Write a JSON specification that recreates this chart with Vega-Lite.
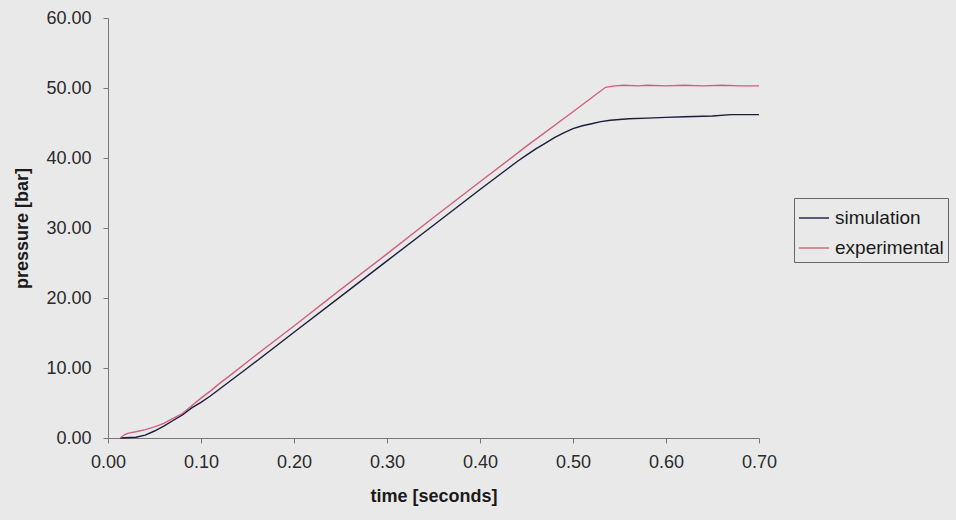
{
  "$schema": "https://vega.github.io/schema/vega-lite/v6.json",
  "autosize": "none",
  "width": 651,
  "height": 420,
  "padding": {"left": 108, "top": 18, "right": 197, "bottom": 82},
  "background": "#e9e9e9",
  "config": {
    "view": {"stroke": null},
    "font": "Liberation Sans",
    "axis": {
      "domainColor": "#777777",
      "tickColor": "#777777",
      "tickSize": 5,
      "grid": false,
      "labelFont": "Liberation Sans",
      "labelFontSize": 18,
      "labelColor": "#2a2a2a",
      "titleFont": "Liberation Sans",
      "titleFontSize": 18,
      "titleFontWeight": "bold",
      "titleColor": "#1a1a1a"
    }
  },
  "data": {
    "values": [
      {"t": 0.013, "p": 0.0, "series": "simulation"},
      {"t": 0.030, "p": 0.1, "series": "simulation"},
      {"t": 0.040, "p": 0.4, "series": "simulation"},
      {"t": 0.050, "p": 1.0, "series": "simulation"},
      {"t": 0.060, "p": 1.7, "series": "simulation"},
      {"t": 0.070, "p": 2.5, "series": "simulation"},
      {"t": 0.080, "p": 3.3, "series": "simulation"},
      {"t": 0.090, "p": 4.3, "series": "simulation"},
      {"t": 0.100, "p": 5.1, "series": "simulation"},
      {"t": 0.110, "p": 6.0, "series": "simulation"},
      {"t": 0.120, "p": 7.0, "series": "simulation"},
      {"t": 0.130, "p": 8.0, "series": "simulation"},
      {"t": 0.150, "p": 10.0, "series": "simulation"},
      {"t": 0.200, "p": 15.1, "series": "simulation"},
      {"t": 0.250, "p": 20.2, "series": "simulation"},
      {"t": 0.300, "p": 25.3, "series": "simulation"},
      {"t": 0.350, "p": 30.4, "series": "simulation"},
      {"t": 0.400, "p": 35.5, "series": "simulation"},
      {"t": 0.420, "p": 37.5, "series": "simulation"},
      {"t": 0.430, "p": 38.5, "series": "simulation"},
      {"t": 0.440, "p": 39.5, "series": "simulation"},
      {"t": 0.450, "p": 40.4, "series": "simulation"},
      {"t": 0.460, "p": 41.3, "series": "simulation"},
      {"t": 0.470, "p": 42.1, "series": "simulation"},
      {"t": 0.480, "p": 42.9, "series": "simulation"},
      {"t": 0.490, "p": 43.6, "series": "simulation"},
      {"t": 0.500, "p": 44.2, "series": "simulation"},
      {"t": 0.510, "p": 44.6, "series": "simulation"},
      {"t": 0.520, "p": 44.9, "series": "simulation"},
      {"t": 0.530, "p": 45.2, "series": "simulation"},
      {"t": 0.540, "p": 45.4, "series": "simulation"},
      {"t": 0.560, "p": 45.6, "series": "simulation"},
      {"t": 0.580, "p": 45.7, "series": "simulation"},
      {"t": 0.600, "p": 45.8, "series": "simulation"},
      {"t": 0.620, "p": 45.9, "series": "simulation"},
      {"t": 0.650, "p": 46.0, "series": "simulation"},
      {"t": 0.670, "p": 46.2, "series": "simulation"},
      {"t": 0.700, "p": 46.2, "series": "simulation"},
      {"t": 0.013, "p": 0.0, "series": "experimental"},
      {"t": 0.018, "p": 0.5, "series": "experimental"},
      {"t": 0.022, "p": 0.7, "series": "experimental"},
      {"t": 0.030, "p": 0.9, "series": "experimental"},
      {"t": 0.040, "p": 1.2, "series": "experimental"},
      {"t": 0.050, "p": 1.6, "series": "experimental"},
      {"t": 0.060, "p": 2.1, "series": "experimental"},
      {"t": 0.070, "p": 2.8, "series": "experimental"},
      {"t": 0.080, "p": 3.5, "series": "experimental"},
      {"t": 0.090, "p": 4.6, "series": "experimental"},
      {"t": 0.100, "p": 5.7, "series": "experimental"},
      {"t": 0.110, "p": 6.7, "series": "experimental"},
      {"t": 0.120, "p": 7.8, "series": "experimental"},
      {"t": 0.130, "p": 8.8, "series": "experimental"},
      {"t": 0.150, "p": 10.9, "series": "experimental"},
      {"t": 0.200, "p": 16.0, "series": "experimental"},
      {"t": 0.250, "p": 21.2, "series": "experimental"},
      {"t": 0.300, "p": 26.3, "series": "experimental"},
      {"t": 0.350, "p": 31.5, "series": "experimental"},
      {"t": 0.400, "p": 36.6, "series": "experimental"},
      {"t": 0.450, "p": 41.7, "series": "experimental"},
      {"t": 0.500, "p": 46.6, "series": "experimental"},
      {"t": 0.520, "p": 48.6, "series": "experimental"},
      {"t": 0.535, "p": 50.1, "series": "experimental"},
      {"t": 0.545, "p": 50.3, "series": "experimental"},
      {"t": 0.555, "p": 50.4, "series": "experimental"},
      {"t": 0.570, "p": 50.3, "series": "experimental"},
      {"t": 0.580, "p": 50.4, "series": "experimental"},
      {"t": 0.600, "p": 50.3, "series": "experimental"},
      {"t": 0.620, "p": 50.4, "series": "experimental"},
      {"t": 0.640, "p": 50.3, "series": "experimental"},
      {"t": 0.660, "p": 50.4, "series": "experimental"},
      {"t": 0.680, "p": 50.3, "series": "experimental"},
      {"t": 0.700, "p": 50.3, "series": "experimental"}
    ]
  },
  "mark": {"type": "line", "strokeWidth": 1.4},
  "encoding": {
    "x": {
      "field": "t",
      "type": "quantitative",
      "title": "time [seconds]",
      "scale": {"domain": [0, 0.7], "nice": false, "zero": false},
      "axis": {"values": [0, 0.1, 0.2, 0.3, 0.4, 0.5, 0.6, 0.7], "format": ".2f", "labelPadding": 10, "titlePadding": 16, "labelFlush": false}
    },
    "y": {
      "field": "p",
      "type": "quantitative",
      "title": "pressure [bar]",
      "scale": {"domain": [0, 60], "nice": false},
      "axis": {"values": [0, 10, 20, 30, 40, 50, 60], "format": ".2f", "labelPadding": 12, "titlePadding": 14, "labelFlush": false}
    },
    "color": {
      "field": "series",
      "type": "nominal",
      "scale": {"domain": ["simulation", "experimental"], "range": ["#1c1c3c", "#d0607c"]},
      "legend": {
        "title": null,
        "orient": "none",
        "legendX": 686,
        "legendY": 180,
        "symbolType": "stroke",
        "symbolSize": 900,
        "symbolStrokeWidth": 1.4,
        "labelFont": "Liberation Sans",
        "labelFontSize": 19,
        "labelColor": "#1a1a1a",
        "labelOffset": 5,
        "rowPadding": 4,
        "padding": 4,
        "strokeColor": "#666666",
        "columns": 1
      }
    },
    "order": {"field": "t", "type": "quantitative"}
  }
}
